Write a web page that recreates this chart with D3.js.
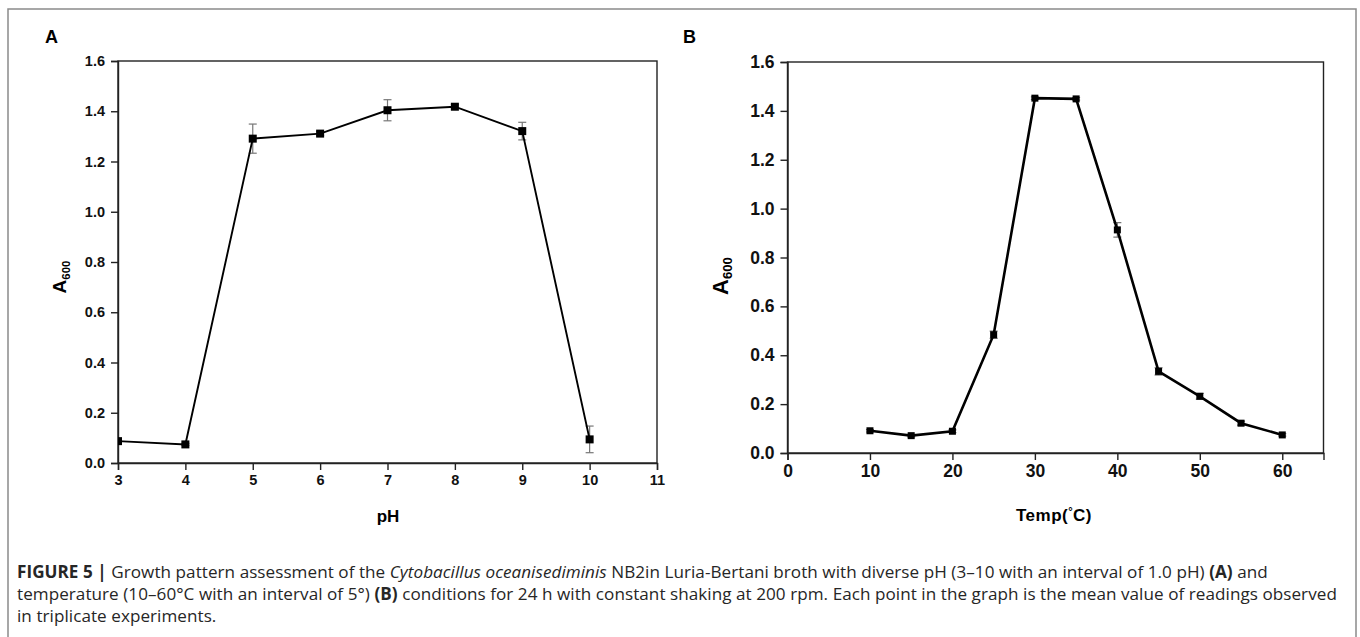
<!DOCTYPE html>
<html lang="en">
<head>
  <meta charset="UTF-8">
  <title>Figure 5</title>
  <style>
    body {
      margin: 0;
      background-color: white;
      font-family: "Liberation Sans", Arial, sans-serif;
    }

    .frame {
      fill: none;
      stroke: #8a8a8a;
      stroke-width: 1.5;
    }

    .axis path,
    .axis line {
      stroke: #222;
      stroke-width: 1.4;
    }

    .axis text {
      font-family: "Liberation Sans", Arial, sans-serif;
      font-weight: bold;
      fill: #111;
    }

    .box {
      fill: none;
      stroke: #222;
      stroke-width: 1.4;
    }

    .series {
      fill: none;
      stroke: #000;
    }

    .err {
      stroke: #777;
      stroke-width: 1.2;
    }

    .panel-label {
      font-weight: bold;
      font-size: 18px;
    }

    .caption {
      font-family: "Open Sans", "Liberation Sans", sans-serif;
      font-size: 17.1px;
      letter-spacing: 0.05px;
      fill: #262626;
    }
  </style>
</head>
<body>
  <svg id="chart" width="1360" height="637"></svg>

  <script src="https://d3js.org/d3.v7.min.js"></script>
  <script>
    // panel A - pH
    var phValues = [3, 4, 5, 6, 7, 8, 9, 10];
    var phMeans = [0.087, 0.074, 1.291, 1.311, 1.404, 1.418, 1.321, 0.094];
    var phErrors = [0.004, 0.004, 0.058, 0.008, 0.042, 0.008, 0.035, 0.053];
    var phTicks = [3, 4, 5, 6, 7, 8, 9, 10, 11];

    // panel B - temperature
    var tempValues = [10, 15, 20, 25, 30, 35, 40, 45, 50, 55, 60];
    var tempMeans = [0.091, 0.071, 0.089, 0.484, 1.452, 1.449, 0.913, 0.334, 0.232, 0.122, 0.074];
    var tempErrors = [0.005, 0.005, 0.006, 0.015, 0.005, 0.005, 0.03, 0.015, 0.012, 0.008, 0.005];
    var tempTicks = [0, 10, 20, 30, 40, 50, 60];

    var yTicks = [0, 0.2, 0.4, 0.6, 0.8, 1.0, 1.2, 1.4, 1.6];

    var svg = d3.select("#chart");

    svg.append("rect")
      .attr("class", "frame")
      .attr("x", 8)
      .attr("y", 9)
      .attr("width", 1348)
      .attr("height", 700);

    function drawPanel(opts) {
      var x = d3.scaleLinear().domain(opts.xDomain).range([opts.left, opts.right]);
      var y = d3.scaleLinear().domain([0, 1.6]).range([opts.bottom, opts.top]);
      var g = svg.append("g");

      g.append("clipPath")
        .attr("id", "clip" + opts.letter)
        .append("rect")
        .attr("x", opts.left)
        .attr("y", opts.top)
        .attr("width", opts.right - opts.left)
        .attr("height", opts.bottom - opts.top);

      g.append("rect")
        .attr("class", "box")
        .attr("x", opts.left)
        .attr("y", opts.top)
        .attr("width", opts.right - opts.left)
        .attr("height", opts.bottom - opts.top);

      var xAxis = g.append("g")
        .attr("class", "axis")
        .attr("transform", "translate(0," + opts.bottom + ")")
        .call(d3.axisBottom(x).tickValues(opts.xTicks).tickFormat(d3.format("d")).tickSizeOuter(0).tickSize(7).tickPadding(5));
      xAxis.selectAll("text").style("font-size", opts.tickFont + "px");

      var yAxis = g.append("g")
        .attr("class", "axis")
        .attr("transform", "translate(" + opts.left + ",0)")
        .call(d3.axisLeft(y).tickValues(yTicks).tickFormat(d3.format(".1f")).tickSizeOuter(0).tickSize(7).tickPadding(6));
      yAxis.selectAll("text").style("font-size", opts.tickFont + "px");

      var plot = g.append("g").attr("clip-path", "url(#clip" + opts.letter + ")");

      // error bars
      opts.xs.forEach(function(d, i) {
        var cx = x(d);
        var hi = y(opts.ys[i] + opts.es[i]);
        var lo = y(opts.ys[i] - opts.es[i]);
        plot.append("line").attr("class", "err").attr("x1", cx).attr("x2", cx).attr("y1", hi).attr("y2", lo);
        plot.append("line").attr("class", "err").attr("x1", cx - 4).attr("x2", cx + 4).attr("y1", hi).attr("y2", hi);
        plot.append("line").attr("class", "err").attr("x1", cx - 4).attr("x2", cx + 4).attr("y1", lo).attr("y2", lo);
      });

      var line = d3.line()
        .x(function(d, i) { return x(opts.xs[i]); })
        .y(function(d) { return y(d); });

      plot.append("path")
        .datum(opts.ys)
        .attr("class", "series")
        .attr("stroke-width", opts.lineWidth)
        .attr("d", line);

      plot.selectAll(".pt")
        .data(opts.ys)
        .enter().append("rect")
        .attr("class", "pt")
        .attr("x", function(d, i) { return x(opts.xs[i]) - opts.marker / 2; })
        .attr("y", function(d) { return y(d) - opts.marker / 2; })
        .attr("width", opts.marker)
        .attr("height", opts.marker)
        .attr("fill", "#000");

      // panel letter
      g.append("text")
        .attr("class", "panel-label")
        .attr("x", opts.letterX)
        .attr("y", 43)
        .text(opts.letter);

      // y title, A with subscript 600
      var yt = g.append("text")
        .attr("transform", "translate(" + opts.yTitleX + "," + opts.yTitleY + ") rotate(-90)")
        .attr("text-anchor", "middle")
        .style("font-weight", "bold")
        .style("font-size", opts.yTitleFont + "px");
      yt.append("tspan").text("A");
      yt.append("tspan")
        .attr("dy", 4)
        .style("font-size", (opts.yTitleFont * 0.6) + "px")
        .text("600");

      return g;
    }

    var gA = drawPanel({
      letter: "A", letterX: 45,
      xDomain: [3, 11], xTicks: phTicks,
      left: 118, right: 657, top: 61, bottom: 463,
      xs: phValues, ys: phMeans, es: phErrors,
      tickFont: 14.5, marker: 8, lineWidth: 1.9,
      yTitleX: 66, yTitleY: 277, yTitleFont: 19
    });

    gA.append("text")
      .attr("x", 388)
      .attr("y", 522)
      .attr("text-anchor", "middle")
      .style("font-weight", "bold")
      .style("font-size", "17px")
      .text("pH");

    var gB = drawPanel({
      letter: "B", letterX: 683,
      xDomain: [0, 65], xTicks: tempTicks,
      left: 787.5, right: 1323.5, top: 62, bottom: 453,
      xs: tempValues, ys: tempMeans, es: tempErrors,
      tickFont: 17.5, marker: 7, lineWidth: 2.6,
      yTitleX: 728, yTitleY: 276, yTitleFont: 22
    });

    var tTitle = gB.append("text")
      .attr("x", 1054)
      .attr("y", 521)
      .attr("text-anchor", "middle")
      .style("font-weight", "bold")
      .style("font-size", "17px")
      .style("letter-spacing", "0.5px");
    tTitle.append("tspan").text("Temp(");
    tTitle.append("tspan").attr("dy", -6).style("font-size", "11px").text("°");
    tTitle.append("tspan").attr("dy", 6).text("C)");

    // caption
    var captionLines = [
      [["FIGURE 5 | ", "b"], ["Growth pattern assessment of the ", ""], ["Cytobacillus oceanisediminis", "i"],
       [" NB2in Luria-Bertani broth with diverse pH (3–10 with an interval of 1.0 pH) ", ""], ["(A)", "b"], [" and", ""]],
      [["temperature (10–60°C with an interval of 5°) ", ""], ["(B)", "b"],
       [" conditions for 24 h with constant shaking at 200 rpm. Each point in the graph is the mean value of readings observed", ""]],
      [["in triplicate experiments.", ""]]
    ];

    captionLines.forEach(function(parts, i) {
      var t = svg.append("text")
        .attr("class", "caption")
        .attr("x", 17)
        .attr("y", 578 + i * 22);
      parts.forEach(function(p) {
        var s = t.append("tspan").text(p[0]);
        if (p[1] === "b") s.style("font-weight", "bold");
        if (p[1] === "i") s.style("font-style", "italic");
      });
    });
  </script>
</body>
</html>
